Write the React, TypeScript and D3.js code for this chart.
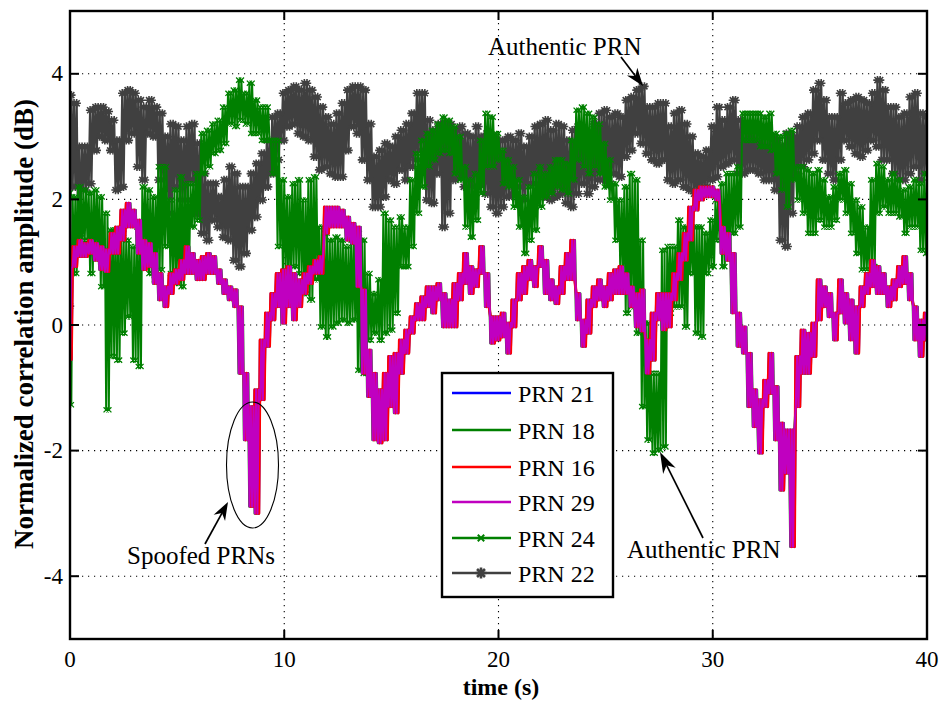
import React from "react";
import * as d3 from "d3";

// ---- data (sampled every 0.25 s, upper / lower envelope of the noisy traces, dB) ----
const STEP = 0.25;
const xTicks = [0, 10, 20, 30, 40];
const yTicks = [-4, -2, 0, 2, 4];

const prn22Hi = [
  3.66, 3.53, 2.84, 2.84, 3.42, 3.47, 3.47, 3.4, 3.26, 2.94,
  3.69, 3.74, 3.69, 3.58, 3.47, 3.58, 3.47, 3.37, 3.0, 3.2,
  3.16, 2.94, 3.16, 3.2, 2.89, 2.41, 2.25, 2.25, 2.04, 2.31,
  2.52, 2.41, 2.2, 2.2, 2.41, 2.57, 2.73, 2.94, 3.31, 3.37,
  3.69, 3.74, 3.8, 3.74, 3.85, 3.74, 3.63, 3.47, 3.31, 3.2,
  3.37, 3.53, 3.74, 3.8, 3.8, 3.74, 3.2, 2.68, 2.78, 2.89,
  2.84, 3.0, 3.1, 3.2, 3.37, 3.69, 3.69, 3.26, 3.1, 3.2,
  3.2, 3.2, 3.1, 3.16, 3.05, 3.0, 3.16, 3.0, 3.05, 3.0,
  2.94, 2.94, 3.0, 2.94, 3.05, 2.84, 3.0, 3.16, 3.2, 3.26,
  3.1, 3.2, 3.16, 2.94, 3.1, 3.16, 3.1, 3.05, 3.2, 3.37,
  3.42, 3.31, 3.37, 3.31, 3.58, 3.63, 3.74, 3.8, 3.47, 3.47,
  3.53, 3.53, 3.16, 3.37, 3.42, 3.2, 3.0, 2.73, 2.68, 2.78,
  3.16, 3.47, 3.26, 3.47, 3.58, 3.26, 3.1, 3.16, 3.1, 3.05,
  3.0, 3.0, 2.94, 2.84, 3.05, 3.0, 3.16, 3.31, 3.37, 3.74,
  3.85, 3.58, 3.31, 3.31, 3.69, 3.53, 3.58, 3.63, 3.58, 3.53,
  3.69, 3.9, 3.74, 3.47, 3.47, 3.31, 3.37, 3.63, 3.69, 3.37,
  3.31,
];
const prn22Lo = [
  0.3, 2.2, 1.46, 2.15, 2.25, 2.78, 3.0, 2.94, 2.78, 2.15,
  2.2, 2.94, 3.05, 2.52, 2.31, 3.05, 3.0, 2.31, 2.15, 1.78,
  2.2, 1.99, 1.99, 2.31, 1.78, 1.46, 1.35, 1.67, 1.56, 1.4,
  1.35, 1.03, 0.93, 1.14, 1.51, 1.72, 1.99, 2.2, 2.41, 2.63,
  2.94, 3.16, 3.2, 3.05, 3.0, 2.94, 2.68, 2.47, 2.52, 2.41,
  2.36, 2.36, 2.78, 3.16, 3.05, 2.63, 2.31, 1.88, 1.88, 2.04,
  2.31, 2.25, 2.47, 2.31, 2.52, 2.63, 2.78, 1.99, 1.94, 2.41,
  1.56, 1.78, 2.31, 2.36, 2.2, 2.04, 2.2, 2.25, 2.09, 1.88,
  1.78, 1.88, 2.04, 2.09, 2.2, 1.99, 2.25, 2.25, 2.09, 2.04,
  1.99, 2.04, 2.09, 1.94, 1.88, 2.09, 2.25, 2.09, 2.2, 2.31,
  2.31, 2.25, 2.41, 2.36, 2.68, 2.78, 3.05, 2.89, 2.73, 2.63,
  2.57, 2.63, 2.31, 2.25, 2.31, 2.2, 2.15, 2.09, 2.15, 2.2,
  2.31, 2.36, 2.52, 2.57, 2.63, 2.41, 2.41, 2.47, 2.47, 2.41,
  2.31, 2.31, 2.15, 1.35, 1.25, 1.78, 2.41, 2.52, 2.63, 2.73,
  2.94, 2.63, 2.41, 2.31, 2.63, 2.94, 2.84, 2.73, 2.68, 2.78,
  2.94, 2.84, 2.63, 2.63, 2.41, 2.31, 2.31, 2.41, 2.52, 2.31,
  2.41,
];

const prn24Hi = [
  2.1, 2.04, 2.2, 2.15, 2.1, 2.15, 2.04, 1.78, 1.51, 1.51,
  1.46, 1.35, 1.25, 1.56, 2.2, 2.15, 2.04, 2.52, 2.52, 1.99,
  2.15, 2.36, 2.25, 2.25, 2.41, 3.05, 3.1, 3.2, 3.26, 3.47,
  3.69, 3.74, 3.9, 3.69, 3.85, 3.58, 3.47, 3.47, 2.94, 2.94,
  2.31, 2.04, 2.25, 2.31, 1.99, 2.31, 2.36, 1.56, 1.46, 1.35,
  1.4, 1.35, 1.25, 1.35, 1.46, 1.35, 0.82, 0.5, 0.72, 1.78,
  1.67, 1.56, 1.72, 1.56, 2.31, 2.73, 2.94, 3.05, 3.1, 3.2,
  3.31, 3.26, 3.16, 3.0, 2.52, 2.31, 2.41, 2.94, 3.37, 3.31,
  3.05, 2.78, 2.63, 2.52, 2.31, 2.04, 2.2, 2.41, 2.52, 2.41,
  2.52, 2.63, 2.63, 2.57, 2.94, 3.42, 3.47, 3.37, 3.31, 3.2,
  2.89, 2.63, 2.25, 1.99, 2.2, 2.41, 2.31, 1.35, 0.03, -0.77,
  -0.77, 1.19, 1.25, 1.25, 1.67, 1.56, 1.51, 1.56, 1.56, 1.46,
  1.67, 1.99, 2.25, 2.41, 2.41, 2.52, 3.37, 3.37, 3.37, 3.37,
  3.31, 3.37, 3.05, 3.0, 3.05, 3.1, 2.52, 2.52, 2.47, 2.41,
  2.47, 2.31, 2.04, 2.2, 2.41, 2.47, 2.25, 1.99, 1.88, 1.56,
  2.31, 2.57, 2.52, 2.31, 2.41, 2.31, 2.15, 2.2, 2.31, 2.25,
  2.41,
];
const prn24Lo = [
  -1.27, 0.82, 1.14, 1.35, 0.82, 1.09, 0.61, -1.35, -0.5, -0.56,
  -0.13, 0.13, -0.56, -0.66, 1.14, 0.82, 0.72, 0.88, 1.25, 0.82,
  0.66, 0.61, 0.93, 1.56, 1.67, 2.41, 2.52, 2.73, 2.78, 2.89,
  3.2, 3.16, 3.26, 3.2, 3.05, 3.05, 2.94, 2.94, 2.41, 1.25,
  0.82, 0.72, 0.93, 0.82, 0.5, 0.4, 0.72, -0.03, -0.19, -0.03,
  0.03, 0.08, 0.03, 0.08, -0.72, -0.77, -0.24, -0.13, -0.24, -0.13,
  -0.08, 0.19, 0.93, 0.93, 1.25, 1.78, 2.2, 2.52, 2.63, 2.73,
  2.78, 2.73, 2.41, 2.31, 1.56, 1.4, 1.67, 2.09, 2.52, 2.52,
  2.63, 2.25, 2.2, 1.88, 1.56, 1.14, 1.35, 1.51, 1.88, 2.04,
  2.09, 2.2, 2.15, 2.09, 2.31, 2.63, 2.52, 2.41, 2.52, 2.41,
  2.2, 1.99, 1.35, 0.82, 0.19, 0.29, -0.13, -1.3, -1.83, -2.04,
  -1.99, -1.94, 0.19, 0.29, 0.29, -0.03, 0.82, -0.13, -0.19, 0.82,
  0.93, 1.35, 0.93, 1.09, 1.46, 1.56, 2.94, 2.94, 2.94, 2.84,
  2.84, 2.78, 2.41, 2.15, 1.88, 2.31, 1.99, 1.78, 1.46, 1.46,
  1.67, 1.56, 1.56, 1.67, 1.99, 1.78, 1.46, 1.14, 0.88, 0.88,
  0.93, 1.78, 1.88, 1.78, 1.78, 1.72, 1.46, 1.56, 1.56, 1.19,
  1.14,
];

// spoofed PRNs (21, 18, 16, 29) share the same correlation trace
const spoofHi = [
  0.9, 1.25, 1.35, 1.3, 1.35, 1.3, 1.25, 1.2, 1.46, 1.56,
  1.83, 1.94, 1.83, 1.67, 1.35, 1.3, 1.14, 0.82, 0.61, 0.82,
  0.88, 1.03, 1.25, 1.14, 1.03, 1.09, 1.14, 1.09, 0.88, 0.72,
  0.61, 0.56, 0.29, -0.77, -1.3, -1.03, -0.24, 0.19, 0.5, 0.82,
  0.88, 0.93, 0.82, 0.72, 0.82, 0.93, 1.03, 1.09, 1.88, 1.88,
  1.88, 1.83, 1.72, 1.62, 1.56, 0.56, -0.4, -0.77, -1.03, -0.77,
  -0.5, -0.45, -0.24, -0.08, 0.13, 0.34, 0.45, 0.61, 0.61, 0.66,
  0.5, 0.4, 0.66, 0.82, 1.14, 0.93, 0.88, 1.25, 0.82, 0.13,
  0.13, 0.19, 0.03, 0.4, 0.82, 0.93, 1.03, 0.93, 1.25, 1.03,
  0.72, 0.61, 0.93, 1.14, 1.35, 0.5, 0.08, 0.4, 0.61, 0.72,
  0.61, 0.82, 0.88, 0.93, 0.82, 0.61, 0.5, 0.56, -0.24, 0.19,
  0.5, 0.5, 0.5, 0.82, 1.14, 1.46, 1.88, 2.15, 2.2, 2.2,
  2.2, 2.15, 1.56, 1.46, 1.14, 0.19, -0.03, -0.45, -1.03, -1.19,
  -0.88, -0.45, -0.98, -1.56, -1.67, -1.67, -0.5, -0.08, -0.13, 0.03,
  0.72, 0.61, 0.5, 0.19, 0.72, 0.5, 0.4, 0.29, 0.61, 0.82,
  1.03, 0.93, 0.82, 0.61, 0.72, 0.93, 1.09, 0.82, 0.29, 0.08,
  0.19,
];
const spoofLo = [
  -0.55, 0.93, 1.09, 1.09, 1.14, 1.03, 0.88, 0.85, 1.14, 1.14,
  1.35, 1.56, 1.56, 1.14, 0.88, 0.93, 0.66, 0.4, 0.29, 0.5,
  0.66, 0.72, 0.82, 0.82, 0.72, 0.72, 0.82, 0.82, 0.66, 0.5,
  0.4, 0.29, -0.77, -1.83, -2.89, -3.0, -1.19, -0.34, 0.08, 0.29,
  0.03, 0.29, 0.08, 0.29, 0.5, 0.66, 0.82, 0.82, 1.46, 1.56,
  1.56, 1.56, 1.35, 1.3, 0.61, -0.77, -1.14, -1.83, -1.88, -1.83,
  -1.3, -1.4, -0.77, -0.45, -0.13, 0.08, 0.08, 0.29, 0.19, 0.4,
  -0.03, -0.03, -0.03, 0.4, 0.66, 0.5, 0.61, 0.82, 0.29, -0.29,
  -0.24, -0.19, -0.45, -0.03, 0.4, 0.5, 0.72, 0.61, 0.93, 0.5,
  0.4, 0.34, 0.5, 0.72, 0.72, 0.08, -0.34, -0.13, 0.29, 0.4,
  0.29, 0.4, 0.5, 0.5, 0.5, 0.29, -0.03, -0.1, -0.77, -0.56,
  0.08, -0.08, -0.03, 0.4, 0.72, 1.03, 1.35, 1.83, 1.99, 2.04,
  2.04, 1.99, 1.14, 1.03, 0.19, -0.34, -0.45, -1.3, -1.62, -2.04,
  -1.3, -1.09, -1.83, -2.63, -2.36, -3.53, -1.3, -0.77, -0.77, -0.5,
  0.08, 0.29, 0.13, -0.24, 0.19, 0.03, -0.24, -0.45, 0.29, 0.5,
  0.61, 0.5, 0.5, 0.29, 0.4, 0.61, 0.66, 0.4, -0.24, -0.5,
  -0.24,
];

const legendLabels = ["PRN 21", "PRN 18", "PRN 16", "PRN 29", "PRN 24", "PRN 22"];

// ---- styles ----
const C_BLUE = "#0000ff";
const C_GREEN = "#008000";
const C_RED = "#ff0000";
const C_MAG = "#c000c0";
const C_GRAY = "#404040";
const FONT = "'Liberation Serif', 'Times New Roman', Times, serif";

type Pt = [number, number];

function zigzag(hi: number[], lo: number[], sub: number, flip: boolean): Pt[] {
  const pts: Pt[] = [];
  hi.forEach((h, i) => {
    const l = lo[i];
    for (let k = 0; k < sub; k++) {
      const t0 = i * STEP - STEP / 2 + (k * STEP) / sub;
      const t1 = t0 + STEP / (2 * sub);
      if (flip) {
        pts.push([t0, h], [t1, l]);
      } else {
        pts.push([t0, l], [t1, h]);
      }
    }
  });
  return pts;
}

function starPath(px: number, py: number, s: number) {
  const d = s * 0.72;
  return `M${px - s},${py}L${px + s},${py}M${px},${py - s}L${px},${py + s}M${px - d},${py - d}L${px + d},${py + d}M${px - d},${py + d}L${px + d},${py - d}`;
}
function xPath(px: number, py: number, s: number) {
  return `M${px - s},${py - s}L${px + s},${py + s}M${px - s},${py + s}L${px + s},${py - s}`;
}

function Arrow({ x1, y1, x2, y2, hl, hw }: { x1: number; y1: number; x2: number; y2: number; hl: number; hw: number }) {
  const dx = x2 - x1;
  const dy = y2 - y1;
  const L = Math.hypot(dx, dy);
  const ux = dx / L;
  const uy = dy / L;
  const bx = x2 - ux * hl;
  const by = y2 - uy * hl;
  const px = -uy;
  const py = ux;
  const nx = bx + ux * hl * 0.3;
  const ny = by + uy * hl * 0.3;
  return (
    <g>
      <line x1={x1} y1={y1} x2={nx} y2={ny} stroke="#000" strokeWidth={1.7} />
      <path
        d={`M${x2},${y2}L${bx + (px * hw) / 2},${by + (py * hw) / 2}L${nx},${ny}L${bx - (px * hw) / 2},${by - (py * hw) / 2}Z`}
        fill="#000"
      />
    </g>
  );
}

export default function App() {
  const left = 70;
  const right = 927;
  const top = 11;
  const bottom = 639;
  const x = d3.scaleLinear().domain([0, 40]).range([left, right]);
  const y = d3.scaleLinear().domain([-5, 5]).range([bottom, top]);
  const line = d3
    .line<Pt>()
    .x((d) => x(d[0]))
    .y((d) => y(d[1]));

  const grayPts = zigzag(prn22Hi, prn22Lo, 2, false);
  const greenPts = zigzag(prn24Hi, prn24Lo, 2, true);
  const spoofA = zigzag(spoofHi, spoofLo, 2, false);
  const spoofB = zigzag(spoofHi, spoofLo, 2, true);

  const grayMarkers = grayPts.map((p) => starPath(x(p[0]), y(p[1]), 4.2)).join("");
  const greenMarkers = greenPts.map((p) => xPath(x(p[0]), y(p[1]), 2.6)).join("");

  const tickLen = 9;
  const legendRows = [393, 430, 467, 502, 538, 573];
  const legendStyles = [
    { c: C_BLUE, m: "" },
    { c: C_GREEN, m: "" },
    { c: C_RED, m: "" },
    { c: C_MAG, m: "" },
    { c: C_GREEN, m: "x" },
    { c: C_GRAY, m: "star" },
  ];
  const tf = { fontFamily: FONT };

  return (
    <svg
      width={944}
      height={704}
      viewBox="0 0 944 704"
      style={{ position: "absolute", left: 0, top: 0, background: "#fff", fontFamily: FONT }}
    >
      <rect x={0} y={0} width={944} height={704} fill="#fff" />
      <defs>
        <clipPath id="plotclip">
          <rect x={left} y={top} width={right - left} height={bottom - top} />
        </clipPath>
      </defs>

      {/* grid */}
      <g stroke="#000" strokeWidth={1.1} strokeDasharray="1.2 4.8">
        {xTicks
          .filter((t) => t > 0 && t < 40)
          .map((t) => (
            <line key={"gx" + t} x1={x(t)} x2={x(t)} y1={top} y2={bottom} />
          ))}
        {yTicks.map((t) => (
          <line key={"gy" + t} x1={left} x2={right} y1={y(t)} y2={y(t)} />
        ))}
      </g>

      {/* series: PRN 22 and PRN 24 first, the spoofed set on top */}
      <g clipPath="url(#plotclip)" fill="none" strokeLinejoin="round">
        <path d={line(grayPts) || ""} stroke={C_GRAY} strokeWidth={2.2} />
        <path d={grayMarkers} stroke={C_GRAY} strokeWidth={1.6} />
        <path d={line(greenPts) || ""} stroke={C_GREEN} strokeWidth={2.0} />
        <path d={greenMarkers} stroke={C_GREEN} strokeWidth={1.3} />
        <path d={line(spoofB) || ""} stroke={C_BLUE} strokeWidth={2.6} />
        <path d={line(spoofA) || ""} stroke={C_GREEN} strokeWidth={2.5} />
        <path d={line(spoofB) || ""} stroke={C_RED} strokeWidth={3.0} />
        <path d={line(spoofA) || ""} stroke={C_MAG} strokeWidth={2.1} />
      </g>

      {/* axes box and ticks */}
      <rect x={left} y={top} width={right - left} height={bottom - top} fill="none" stroke="#000" strokeWidth={2.4} />
      <g stroke="#000" strokeWidth={2}>
        {xTicks.map((t) => (
          <g key={"tx" + t}>
            <line x1={x(t)} x2={x(t)} y1={bottom} y2={bottom - tickLen} />
            <line x1={x(t)} x2={x(t)} y1={top} y2={top + tickLen} />
          </g>
        ))}
        {yTicks.map((t) => (
          <g key={"ty" + t}>
            <line x1={left} x2={left + tickLen} y1={y(t)} y2={y(t)} />
            <line x1={right} x2={right - tickLen} y1={y(t)} y2={y(t)} />
          </g>
        ))}
      </g>
      <g fontSize={23} fill="#000">
        {xTicks.map((t) => (
          <text key={"lx" + t} x={x(t)} y={667} textAnchor="middle" style={tf}>
            {t}
          </text>
        ))}
        {yTicks.map((t) => (
          <text key={"ly" + t} x={63} y={y(t)} textAnchor="end" dominantBaseline="central" style={tf}>
            {t}
          </text>
        ))}
      </g>

      {/* axis labels */}
      <text x={501} y={695} textAnchor="middle" fontSize={24} fontWeight="bold" style={tf}>
        time (s)
      </text>
      <text
        transform={`translate(33,${(95 + 553) / 2}) rotate(-90)`}
        textAnchor="middle"
        fontSize={27}
        fontWeight="bold"
        style={tf}
      >
        Normalized correlation amplitude (dB)
      </text>

      {/* annotations */}
      <text x={488} y={55} fontSize={25} style={tf}>
        Authentic PRN
      </text>
      <Arrow x1={621} y1={57} x2={643} y2={86} hl={18} hw={13} />

      <ellipse cx={252.5} cy={465} rx={26} ry={63} fill="none" stroke="#000" strokeWidth={1.1} />
      <text x={127} y={564} fontSize={25} style={tf}>
        Spoofed PRNs
      </text>
      <Arrow x1={205} y1={544} x2={228} y2={502} hl={18} hw={13} />

      <text x={627} y={558} fontSize={25} style={tf}>
        Authentic PRN
      </text>
      <Arrow x1={703} y1={538} x2={660} y2={452} hl={21} hw={14} />

      {/* legend */}
      <rect x={442} y={373} width={171} height={224} fill="#fff" stroke="#000" strokeWidth={2.4} />
      {legendLabels.map((lab, i) => {
        const ly = legendRows[i];
        const st = legendStyles[i];
        return (
          <g key={lab}>
            <line x1={452} x2={511} y1={ly} y2={ly} stroke={st.c} strokeWidth={2.6} />
            {st.m === "x" && <path d={xPath(481, ly, 3.2)} stroke={st.c} strokeWidth={2} fill="none" />}
            {st.m === "star" && <path d={starPath(481, ly, 5.5)} stroke={st.c} strokeWidth={2.6} fill="none" />}
            <text x={518} y={ly + 1} fontSize={24} dominantBaseline="central" style={tf}>
              {lab}
            </text>
          </g>
        );
      })}
    </svg>
  );
}
